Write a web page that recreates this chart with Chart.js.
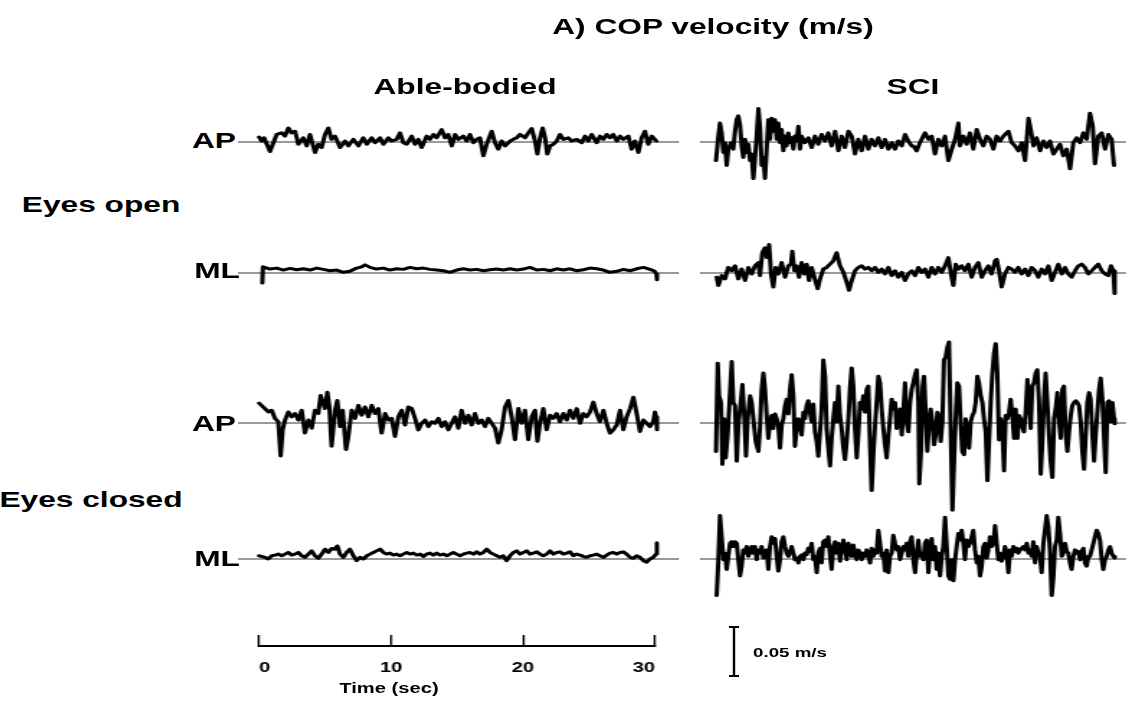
<!DOCTYPE html>
<html><head><meta charset="utf-8">
<script src="https://cdn.jsdelivr.net/npm/chart.js@4.4.1/dist/chart.umd.min.js"></script>
<style>
html,body{margin:0;padding:0;background:#fff;}
#stage{position:relative;width:1138px;height:707px;overflow:hidden;background:#fff;font-family:"Liberation Sans",Arial,sans-serif;}
.lbl{position:absolute;white-space:nowrap;font-weight:bold;line-height:1;color:#000;}
canvas{position:absolute;}
</style></head><body><div id="stage"></div>
<script>
// ---------------- DATA (time in s, COP velocity in mm/s) ----------------
const timeTicks = [0, 10, 20, 30];
const scaleBarValue = 50; // mm/s = 0.05 m/s

const abOpenAp = [[0,5],[0.2,1],[0.38,4.3],[0.83,-9.7],[1.34,7.7],[1.72,9.3],[1.97,6],[2.22,14.3],[2.47,9.3],[2.73,11],[2.98,-2.3],[3.36,4.3],[3.61,-4],[3.86,7.7],[4.24,-10.7],[4.49,-2.3],[4.75,-5.7],[5.0,7.7],[5.25,14.3],[5.5,2.7],[5.76,6],[6.14,-5.7],[6.52,1],[6.77,-4],[7.15,2.7],[7.53,-4],[7.9,4.3],[8.16,-2.3],[8.54,4.3],[8.79,-0.7],[9.17,4.3],[9.42,-2.3],[9.8,4.3],[10.05,1],[10.43,2.7],[10.68,9.3],[10.93,-0.7],[11.19,-2.3],[11.57,6],[11.82,-2.3],[12.07,2.7],[12.32,-5.7],[12.7,6],[12.95,2.7],[13.21,7.7],[13.46,4.3],[13.84,12.7],[14.09,4.3],[14.34,7.7],[14.6,-4],[14.85,7.7],[15.1,2.7],[15.48,6],[15.73,1],[15.98,7.7],[16.24,-0.7],[16.49,2.7],[16.74,4.3],[17.0,-14],[17.25,-2.3],[17.63,11],[17.88,-0.7],[18.13,-7.3],[18.38,1],[18.64,-4],[19.02,1],[19.27,2.7],[19.52,4.3],[19.77,7.7],[20.15,4.3],[20.4,9.3],[20.66,13.7],[20.91,1],[21.09,-12.3],[21.29,4.3],[21.49,14.3],[21.67,4.3],[21.84,-12.3],[22.05,-4],[22.3,-2.3],[22.55,1],[22.8,7.7],[23.06,2.7],[23.43,4.3],[23.69,1],[24.07,2.7],[24.44,-0.7],[24.7,6],[24.95,1],[25.2,7.7],[25.58,-0.7],[25.83,6],[26.09,2.7],[26.34,7.7],[26.59,4.3],[26.84,7.7],[27.1,1],[27.35,6],[27.6,2.7],[27.98,6],[28.23,-7.3],[28.48,1],[28.74,-10.7],[28.99,4.3],[29.24,11],[29.49,-2.3],[29.75,6],[30.1,1]];

const abOpenMl = [[0.25,-10.3],[0.3,6.3],[0.83,4],[1.34,5],[1.84,3],[2.35,4.7],[2.85,3.3],[3.36,4.3],[3.86,3],[4.37,5],[4.87,3.7],[5.38,2.3],[5.88,3],[6.39,0.7],[6.89,1.7],[7.4,5],[7.78,6.3],[8.03,8.3],[8.41,5.7],[8.91,4],[9.42,5],[9.92,3],[10.43,4.3],[10.93,3.7],[11.44,5.7],[11.94,4.3],[12.45,5],[12.95,3.7],[13.46,3],[13.96,2.3],[14.47,0.7],[14.97,3],[15.48,4.3],[15.98,3],[16.49,3.7],[17.0,2.3],[17.5,3.3],[18.0,4],[18.51,3],[19.02,4.3],[19.52,3],[20.03,4],[20.53,5.7],[21.04,3],[21.54,3.7],[22.05,2.3],[22.55,4.3],[23.06,3],[23.56,4.3],[24.07,2.3],[24.57,3.3],[25.08,5],[25.58,4.3],[26.09,3],[26.59,0.7],[27.1,1.7],[27.6,3.7],[28.11,2.3],[28.61,4.3],[29.12,5.7],[29.62,3.7],[29.95,2],[30.1,-1],[30.15,-7]];

const sciOpenAp = [[0,-19],[0.18,6],[0.3,19.3],[0.43,9.3],[0.56,-10.7],[0.68,-0.7],[0.81,-24],[0.93,-7.3],[1.14,-0.7],[1.31,-7.3],[1.44,11],[1.57,22.7],[1.69,26.7],[1.82,17.7],[1.94,-4],[2.07,-15.7],[2.2,2.7],[2.32,-10.7],[2.45,-2.3],[2.58,-19],[2.7,-12.3],[2.83,-37.3],[2.95,-17.3],[3.08,6],[3.21,34.3],[3.33,16],[3.46,-24],[3.59,-15.7],[3.71,-37.3],[3.84,-7.3],[3.96,22.7],[4.09,2.7],[4.22,24.3],[4.34,11],[4.47,22.7],[4.6,2.7],[4.72,19.3],[4.85,-0.7],[4.97,12.7],[5.1,-9],[5.23,6],[5.35,-4],[5.48,9.3],[5.61,-0.7],[5.73,4.3],[5.86,-7.3],[5.98,6],[6.11,1],[6.24,16],[6.36,-7.3],[6.49,6],[6.74,-0.7],[7.0,4.3],[7.25,-5.7],[7.5,6],[7.75,-2.3],[8.0,7.7],[8.26,1],[8.51,9.3],[8.76,-4],[9.02,11],[9.27,-9],[9.52,6],[9.77,-5.7],[10.03,11],[10.28,6],[10.53,-12.3],[10.78,2.7],[11.04,-9],[11.29,6],[11.54,-7.3],[11.79,2.7],[12.05,-4],[12.3,4.3],[12.55,-5.7],[12.8,2.7],[13.06,-7.3],[13.31,-0.7],[13.56,-7.3],[13.81,1],[14.07,-4],[14.32,7.7],[14.57,1],[14.82,-4],[14.95,-4],[15.2,-9],[15.45,-0.7],[15.83,9.3],[16.09,2.7],[16.34,6],[16.59,-12.3],[16.84,2.7],[17.1,-4],[17.35,6],[17.6,-19],[17.86,-7.3],[18.11,2.7],[18.36,19.3],[18.48,-4],[18.74,6],[18.99,-2.3],[19.24,9.3],[19.49,-7.3],[19.75,12.7],[20.0,2.7],[20.25,-4],[20.51,6],[20.76,2.7],[21.01,-7.3],[21.26,6],[21.52,1],[21.77,6],[22.15,11],[22.4,-0.7],[22.65,-4],[22.91,-9],[23.16,-0.7],[23.41,-19],[23.67,24.3],[23.84,12.7],[24.05,-4],[24.29,4.3],[24.55,-9],[24.8,1],[25.05,-5.7],[25.3,1],[25.56,-12.3],[25.81,-7.3],[26.06,-2.3],[26.31,-14],[26.57,-7.3],[26.82,-27.3],[27.07,-0.7],[27.32,4.3],[27.58,-0.7],[27.83,9.3],[28.08,2.7],[28.33,29.3],[28.54,16],[28.71,-22.3],[28.96,6],[29.22,9.3],[29.47,-7.3],[29.72,7.7],[29.97,2.7],[30.15,-24]];

const sciOpenMl = [[0.05,-4.3],[0.18,-12.7],[0.43,-2.7],[0.68,-6],[0.93,5.7],[1.19,2.3],[1.44,7.3],[1.69,-6],[1.94,4],[2.2,-7.7],[2.45,5.7],[2.7,-1],[2.95,7.3],[3.21,10.7],[3.33,-2.7],[3.51,20.7],[3.71,25.7],[3.84,15.7],[4.02,29],[4.17,-1],[4.34,-14.3],[4.52,5.7],[4.72,-1],[4.97,10.7],[5.23,-4.3],[5.48,7.3],[5.68,9],[5.78,22.3],[5.93,2.3],[6.11,7.3],[6.29,-4.3],[6.49,10.7],[6.69,-1],[6.87,9],[7.05,-7.7],[7.25,5.7],[7.45,-4.3],[7.7,-16],[7.88,-6],[8.13,4],[8.38,5.7],[8.64,9],[8.89,12.3],[9.14,20.7],[9.39,7.3],[9.65,0.7],[9.9,-9.3],[10.08,-17.7],[10.28,-7.7],[10.53,2.3],[10.78,5.7],[11.04,7.3],[11.29,4],[11.54,5.7],[11.79,2.3],[12.05,5.7],[12.3,0.7],[12.55,4],[12.8,-1],[13.06,5.7],[13.31,-2.7],[13.56,2.3],[13.81,-4.3],[14.07,0.7],[14.32,-7.7],[14.57,-1],[14.82,2.3],[15.08,-2.7],[15.33,5.7],[15.58,0.7],[15.83,4],[16.09,-4.3],[16.34,5.7],[16.59,-1],[16.84,5.7],[17.1,0.7],[17.35,7.3],[17.6,15.7],[17.85,-4.3],[17.98,-12.7],[18.16,9],[18.36,4],[18.61,7.3],[18.86,2.3],[19.12,9],[19.37,-4.3],[19.62,5.7],[19.87,10.7],[20.13,-4.3],[20.38,2.3],[20.63,7.3],[20.88,-1],[21.14,12.3],[21.26,14],[21.44,2.3],[21.64,-14.3],[21.89,-1],[22.15,5.7],[22.4,4],[22.65,0.7],[22.9,5.7],[23.16,-1],[23.41,4],[23.66,-2.7],[23.91,5.7],[24.17,2.3],[24.42,-4.3],[24.67,4],[24.92,-1],[25.18,7.3],[25.43,-7.7],[25.68,0.7],[25.93,9],[26.19,-1],[26.44,5.7],[26.69,-1],[26.94,-4.3],[27.2,2.3],[27.45,7.3],[27.7,9],[27.95,5.7],[28.21,-1],[28.46,2.3],[28.71,5.7],[28.96,9],[29.22,2.3],[29.47,-1],[29.72,-2.7],[29.92,7.3],[30.1,2.3],[30.2,-21]];

const abClosedAp = [[0,20.3],[0.45,14.7],[0.71,11.3],[0.96,13],[1.21,4.7],[1.46,1.3],[1.64,-33.7],[1.79,-7],[1.97,3],[2.22,11.3],[2.47,6.3],[2.73,9.7],[2.98,3],[3.23,13],[3.48,-10.3],[3.74,3],[3.99,-5.3],[4.24,13],[4.49,9.7],[4.67,28],[4.87,19.7],[5.0,14.7],[5.18,31.3],[5.33,16.3],[5.5,-23.7],[5.76,13],[5.93,23],[6.14,-3.7],[6.34,13],[6.59,-27],[6.77,-13.7],[7.02,13],[7.27,4.7],[7.53,18],[7.78,8],[8.03,16.3],[8.28,6.3],[8.54,18],[8.79,9.7],[9.04,14.7],[9.29,-10.3],[9.55,9.7],[9.8,3],[10.05,4.7],[10.3,-13.7],[10.56,6.3],[10.81,13],[11.06,-2],[11.31,16.3],[11.57,14.7],[11.82,4.7],[12.07,-7],[12.32,-0.3],[12.58,3],[12.83,-3.7],[13.08,1.3],[13.33,-0.3],[13.59,4.7],[13.84,-3.7],[14.09,1.3],[14.34,-7],[14.6,-0.3],[14.85,6.3],[15.1,-5.3],[15.35,13],[15.61,-0.3],[15.86,8],[16.11,-2],[16.36,9.7],[16.62,-0.3],[16.87,3],[17.12,-3.7],[17.37,4.7],[17.63,-0.3],[17.88,-5.3],[18.13,-20.3],[18.38,-7],[18.64,16.3],[18.89,23],[19.14,6.3],[19.39,-17],[19.65,14.7],[19.9,-0.3],[20.15,13],[20.4,-17],[20.66,6.3],[20.91,13],[21.09,-18.7],[21.29,-0.3],[21.54,14.7],[21.79,-7],[22.05,8],[22.3,4.7],[22.55,9.7],[22.8,1.3],[23.06,9.7],[23.31,3],[23.56,13],[23.81,4.7],[24.07,14.7],[24.32,-0.3],[24.57,9.7],[24.82,6.3],[25.08,11.3],[25.33,21.3],[25.58,9.7],[25.83,1.3],[26.09,13],[26.34,-0.3],[26.59,-10.3],[26.84,-7],[27.1,-2],[27.35,13],[27.6,-7],[27.85,6.3],[28.11,14.7],[28.36,26.3],[28.61,9.7],[28.86,-8.7],[29.12,3],[29.37,-0.3],[29.62,-3.7],[29.87,1.3],[30.0,11.3],[30.08,6.3],[30.15,-7]];

const abClosedMl = [[0,3.3],[0.45,1.7],[0.71,0],[0.96,3.3],[1.21,4],[1.46,5],[1.72,3.3],[1.97,5],[2.22,6.7],[2.47,4],[2.73,5],[2.98,6.7],[3.23,3.3],[3.48,1.7],[3.74,5],[3.99,8.3],[4.24,3.3],[4.49,0.7],[4.75,5],[5.0,10],[5.25,6.7],[5.5,10.7],[5.76,10],[5.93,13.3],[6.14,5],[6.39,1.7],[6.64,6.7],[6.89,10],[7.15,3.3],[7.4,-1.7],[7.65,1.7],[7.9,0],[8.16,3.3],[8.41,5],[8.66,6.7],[8.91,8.3],[9.17,10],[9.42,6.7],[9.67,5],[9.92,6],[10.18,4],[10.43,5],[10.68,3.3],[10.93,5],[11.19,6.7],[11.44,5],[11.69,6],[11.94,4],[12.2,5],[12.45,2.7],[12.7,5],[12.95,6],[13.21,4],[13.46,6],[13.71,4],[13.96,5],[14.22,3.3],[14.47,5],[14.72,6.7],[14.97,5],[15.23,3.3],[15.48,5],[15.73,6],[15.98,6.7],[16.24,5],[16.49,7.3],[16.74,5],[17.0,6.7],[17.25,10],[17.5,6.7],[17.75,5],[18.01,3.3],[18.26,1.7],[18.51,3.3],[18.76,-1.7],[19.02,3.3],[19.27,6.7],[19.52,8.3],[19.77,5],[20.03,6.7],[20.28,8.3],[20.53,5],[20.78,6],[21.04,7.3],[21.29,5],[21.54,3.3],[21.79,5],[22.05,8.3],[22.3,5],[22.55,6.7],[22.8,7.3],[23.06,5],[23.31,6],[23.56,7.3],[23.81,3.3],[24.07,5],[24.32,4],[24.57,2.7],[24.82,1.7],[25.08,3.3],[25.33,4],[25.58,5],[25.83,3.3],[26.09,1.7],[26.34,4],[26.59,6],[26.84,6.7],[27.1,5],[27.35,6.7],[27.6,7.3],[27.85,5],[28.11,1.7],[28.36,0.7],[28.61,3.3],[28.86,1.7],[29.12,-1.7],[29.37,-3.3],[29.62,0],[29.87,1.7],[30.08,5],[30.13,10],[30.15,16.7]];

const sciClosedAp = [[0,-29],[0.13,61],[0.23,27.7],[0.38,21],[0.48,-42.3],[0.61,4.3],[0.73,-35.7],[0.88,-12.3],[1.06,31],[1.19,62.7],[1.31,21],[1.44,17.7],[1.57,-39],[1.69,-2.3],[1.82,14.3],[2.0,39.3],[2.15,4.3],[2.27,-34],[2.4,4.3],[2.58,27.7],[2.7,21],[2.83,4.3],[3.01,-19],[3.21,-29],[3.33,-5.7],[3.46,34.3],[3.59,51],[3.71,34.3],[3.84,7.7],[3.96,-15.7],[4.09,1],[4.22,7.7],[4.34,-5.7],[4.47,9.3],[4.6,4.3],[4.72,-2.3],[4.85,-25.7],[4.97,-2.3],[5.1,4.3],[5.23,17.7],[5.35,24.3],[5.48,9.3],[5.61,34.3],[5.73,49.3],[5.86,27.7],[5.98,-24],[6.11,-5.7],[6.24,4.3],[6.36,-2.3],[6.49,-12.3],[6.62,11],[6.74,4.3],[6.87,17.7],[6.99,22.7],[7.12,11],[7.25,1],[7.37,19.3],[7.5,-9],[7.63,-19],[7.75,-34],[7.88,-9],[8.0,14.3],[8.13,64.3],[8.26,47.7],[8.38,-5.7],[8.51,-25.7],[8.64,-44],[8.76,-15.7],[8.89,4.3],[9.02,21],[9.14,1],[9.27,37.7],[9.39,7.7],[9.52,-5.7],[9.65,-25.7],[9.77,-37.3],[9.9,-19],[10.03,4.3],[10.15,34.3],[10.28,56],[10.4,37.7],[10.53,-5.7],[10.66,-35.7],[10.78,-12.3],[10.91,21],[11.04,14.3],[11.16,27.7],[11.29,11],[11.41,34.3],[11.54,37.7],[11.67,-22.3],[11.79,-69],[11.92,-32.3],[12.05,-2.3],[12.17,21],[12.3,47.7],[12.42,41],[12.55,14.3],[12.68,-5.7],[12.8,-22.3],[12.93,-35.7],[13.06,-12.3],[13.18,4.3],[13.31,24.3],[13.43,14.3],[13.56,21],[13.69,-5.7],[13.81,1],[13.94,14.3],[14.07,-12.3],[14.19,11],[14.32,41],[14.44,1],[14.57,-9],[14.7,21],[14.82,34.3],[14.95,41],[15.08,49.3],[15.2,54.3],[15.33,21],[15.4,-62.3],[15.53,-29],[15.66,37.7],[15.76,47.7],[15.88,11],[16.01,-29],[16.14,1],[16.26,14.3],[16.39,1],[16.52,-22.3],[16.64,-12.3],[16.77,11],[16.89,7.7],[17.02,-19],[17.15,1],[17.27,64.3],[17.4,67.7],[17.53,77.7],[17.65,82.7],[17.78,-5.7],[17.91,-89],[18.03,-39],[18.16,7.7],[18.28,41],[18.41,37.7],[18.54,-2.3],[18.66,-29],[18.79,-32.3],[18.91,4.3],[19.04,-9],[19.17,-25.7],[19.29,1],[19.42,7.7],[19.55,11],[19.67,21],[19.8,47.7],[19.92,41],[20.05,27.7],[20.18,21],[20.3,4.3],[20.43,-9],[20.56,-59],[20.68,-19],[20.81,21],[20.93,49.3],[21.06,71],[21.19,81],[21.31,51],[21.44,-17.3],[21.57,4.3],[21.69,-5.7],[21.82,-49],[21.94,7.7],[22.07,4.3],[22.2,11],[22.32,24.3],[22.45,7.7],[22.58,-15.7],[22.7,14.3],[22.83,-15.7],[22.95,7.7],[23.08,4.3],[23.21,-4],[23.33,-9],[23.46,11],[23.59,44.3],[23.71,27.7],[23.84,-5.7],[23.96,37.7],[24.09,41],[24.22,51],[24.34,54.3],[24.47,21],[24.6,-52.3],[24.72,-19],[24.85,24.3],[24.97,51],[25.1,21],[25.23,-12.3],[25.35,-39],[25.48,-55.7],[25.61,4.3],[25.73,14.3],[25.86,31],[25.98,4.3],[26.11,-15.7],[26.24,34.3],[26.36,37.7],[26.49,-12.3],[26.62,-29],[26.74,-9],[26.87,7.7],[26.99,17.7],[27.12,21],[27.25,22.7],[27.37,21],[27.5,17.7],[27.63,1],[27.75,-29],[27.88,-47.3],[28.01,-12.3],[28.13,21],[28.26,31],[28.38,24.3],[28.51,-12.3],[28.64,-39],[28.76,-12.3],[28.89,11],[29.02,34.3],[29.14,46],[29.27,24.3],[29.39,-12.3],[29.52,-50.7],[29.65,21],[29.77,22.7],[29.9,1],[30.03,21],[30.15,4.3],[30.2,-0.7]];

const sciClosedMl = [[0.05,-37.3],[0.18,-0.7],[0.3,44.3],[0.43,22.7],[0.56,-0.7],[0.68,6],[0.81,-10.7],[0.93,2.7],[1.06,16],[1.19,17.7],[1.31,12.7],[1.44,17.7],[1.57,16],[1.69,-0.7],[1.82,-17.3],[1.94,-7.3],[2.07,9.3],[2.2,6],[2.32,12.7],[2.45,2.7],[2.58,7.7],[2.7,12.7],[2.83,6],[2.95,12.7],[3.08,-0.7],[3.21,9.3],[3.33,6],[3.46,12.7],[3.59,1],[3.71,6],[3.84,9.3],[3.96,-10.7],[4.09,12.7],[4.22,22.7],[4.34,16],[4.47,21],[4.6,2.7],[4.72,-12.3],[4.85,-0.7],[4.97,17.7],[5.1,22.7],[5.23,12.7],[5.35,6],[5.48,2.7],[5.61,7.7],[5.73,12.7],[5.86,6],[5.98,-0.7],[6.11,1],[6.24,-4],[6.36,2.7],[6.49,4.3],[6.62,-0.7],[6.74,6],[6.87,4.3],[6.99,11],[7.12,7.7],[7.25,16],[7.37,-0.7],[7.5,2.7],[7.63,-14],[7.75,6],[7.88,11],[8.0,-4],[8.13,17.7],[8.26,19.3],[8.38,12.7],[8.51,22.7],[8.64,2.7],[8.76,-10.7],[8.89,12.7],[9.02,17.7],[9.14,6],[9.27,16],[9.39,-2.3],[9.52,9.3],[9.65,19.3],[9.77,11],[9.9,-0.7],[10.03,16],[10.15,9.3],[10.28,2.7],[10.4,14.3],[10.53,4.3],[10.66,-0.7],[10.78,9.3],[10.91,6],[11.04,-0.7],[11.16,6],[11.29,2.7],[11.41,9.3],[11.54,4.3],[11.67,-4],[11.79,11],[11.92,2.7],[12.05,9.3],[12.17,6],[12.3,29.3],[12.42,16],[12.55,2.7],[12.68,6],[12.8,-12.3],[12.93,9.3],[13.06,-14],[13.18,2.7],[13.31,6],[13.43,24.3],[13.56,16],[13.69,9.3],[13.81,12.7],[13.94,-0.7],[14.07,6],[14.19,12.7],[14.32,9.3],[14.44,16],[14.57,2.7],[14.7,17.7],[14.82,22.7],[14.95,-0.7],[15.08,-14],[15.2,6],[15.33,19.3],[15.45,2.7],[15.58,6],[15.71,-0.7],[15.83,16],[15.96,19.3],[16.09,-14],[16.21,9.3],[16.34,21],[16.46,-0.7],[16.59,12.7],[16.72,-10.7],[16.84,6],[16.97,-17.3],[17.1,2.7],[17.22,12.7],[17.35,42.7],[17.48,12.7],[17.6,-17.3],[17.73,-20.7],[17.85,-0.7],[17.98,-22.3],[18.11,-0.7],[18.23,12.7],[18.36,26],[18.48,19.3],[18.61,29.3],[18.74,16],[18.86,-0.7],[18.99,19.3],[19.12,12.7],[19.24,16],[19.37,22.7],[19.49,29.3],[19.62,9.3],[19.75,-4],[19.87,2.7],[20.0,-17.3],[20.13,-7.3],[20.25,12.7],[20.38,16],[20.51,1],[20.63,9.3],[20.76,22.7],[20.88,12.7],[21.01,16],[21.14,34.3],[21.26,16],[21.39,-0.7],[21.52,6],[21.64,-2.3],[21.77,2.7],[21.89,12.7],[22.02,6],[22.15,-14],[22.27,9.3],[22.4,2.7],[22.53,12.7],[22.65,7.7],[22.78,11],[22.9,6],[23.03,9.3],[23.16,11],[23.28,12.7],[23.41,9.3],[23.54,16],[23.66,6],[23.79,9.3],[23.91,2.7],[24.04,17.7],[24.17,-4],[24.29,12.7],[24.42,6],[24.55,2.7],[24.67,-14],[24.8,16],[24.92,29.3],[25.05,44.3],[25.18,32.7],[25.3,9.3],[25.43,-37.3],[25.56,-17.3],[25.68,12.7],[25.81,19.3],[25.93,42.7],[26.06,26],[26.19,2.7],[26.31,6],[26.44,16],[26.57,7.7],[26.69,6],[26.82,-4],[26.94,-10.7],[27.07,2.7],[27.2,9.3],[27.32,6],[27.45,7.7],[27.58,-0.7],[27.7,7.7],[27.83,11],[27.95,-4],[28.08,-7.3],[28.21,2.7],[28.33,2.7],[28.46,9.3],[28.59,16],[28.71,22.7],[28.84,29.3],[28.96,26],[29.09,19.3],[29.22,-0.7],[29.34,-10.7],[29.47,-0.7],[29.6,2.7],[29.72,9.3],[29.85,12.7],[29.97,6],[30.1,2.7],[30.2,1]];

// ---------------- LAYOUT ----------------
const S = 1.44;                 // horizontal stretch of the original figure
const PX_PER_SEC = 13.2;
const PX_PER_UNIT = 0.98;       // px per mm/s (0.05 m/s bar = 49 px)
const COL_X0 = [259, 716];      // pixel of t = 0
const COL_GRAY = [[238, 678], [700, 1126]];
const ROW_BASE = [142, 273, 423, 559];

Chart.defaults.font.family = '"Liberation Sans", Arial, sans-serif';
Chart.defaults.color = '#000';

const stage = document.getElementById('stage');

function addLabel(text, cx, cy, size) {
  const el = document.createElement('div');
  el.className = 'lbl';
  el.textContent = text;
  el.style.fontSize = size + 'px';
  el.style.left = cx + 'px';
  el.style.top = cy + 'px';
  el.style.transform = 'translate(-50%,-50%) scaleX(' + S + ')';
  stage.appendChild(el);
}
function addCanvas(left, top, w, h, parent) {
  const c = document.createElement('canvas');
  c.width = w; c.height = h;
  c.style.left = left + 'px'; c.style.top = top + 'px';
  c.style.width = w + 'px'; c.style.height = h + 'px';
  (parent || stage).appendChild(c);
  return c;
}
function addStretchWrap(left, top, w, h) {
  const wrap = document.createElement('div');
  wrap.style.cssText = 'position:absolute;left:' + left + 'px;top:' + top + 'px;width:' + w + 'px;height:' + h + 'px;transform:scaleX(' + S + ');transform-origin:0 0;';
  stage.appendChild(wrap);
  return wrap;
}

const baselinePlugin = {
  id: 'baseline',
  beforeDatasetsDraw(chart, args, opts) {
    const {ctx, chartArea, scales} = chart;
    const y = scales.y.getPixelForValue(0);
    ctx.save();
    ctx.strokeStyle = opts.color;
    ctx.lineWidth = opts.width;
    ctx.beginPath();
    ctx.moveTo(chartArea.left, y);
    ctx.lineTo(chartArea.right, y);
    ctx.stroke();
    ctx.restore();
  }
};

function drawTrace(pairs, col, row) {
  const x0 = COL_X0[col];
  const [gl, gr0] = COL_GRAY[col];
  const base = ROW_BASE[row];
  const H = 240;
  const Wc = Math.round((gr0 - gl) / S);
  const gr = gl + Wc * S;
  const wrap = addStretchWrap(gl, base - H / 2, Wc, H);
  const c = addCanvas(0, 0, Wc, H, wrap);
  const half = (H / 2) / PX_PER_UNIT;
  new Chart(c, {
    type: 'line',
    data: { datasets: [{
      data: pairs.map(p => ({x: p[0], y: p[1]})),
      borderColor: '#000', borderWidth: 3, pointRadius: 0, tension: 0,
      clip: false, borderJoinStyle: 'round', borderCapStyle: 'round', fill: false
    }]},
    options: {
      responsive: false, animation: false, devicePixelRatio: 1, events: [],
      layout: {autoPadding: false, padding: 0},
      plugins: {legend: {display: false}, tooltip: {enabled: false},
                baseline: {color: '#9b9b9b', width: 2}},
      scales: {
        x: {type: 'linear', display: false, min: (gl - x0) / PX_PER_SEC, max: (gr - x0) / PX_PER_SEC},
        y: {type: 'linear', display: false, min: -half, max: half}
      }
    },
    plugins: [baselinePlugin]
  });
}

drawTrace(abOpenAp, 0, 0);
drawTrace(abOpenMl, 0, 1);
drawTrace(abClosedAp, 0, 2);
drawTrace(abClosedMl, 0, 3);
drawTrace(sciOpenAp, 1, 0);
drawTrace(sciOpenMl, 1, 1);
drawTrace(sciClosedAp, 1, 2);
drawTrace(sciClosedMl, 1, 3);

// ---------------- TIME AXIS ----------------
(function () {
  const tickPad = 24.6;
  const padL = 25, padR = 25;        // >= tick padding so the axis is not shrunk
  const areaW = (30 * PX_PER_SEC) / S;
  const Wc = Math.ceil(areaW + padL + padR);
  const Tc = 586, Hc = 115;          // axis line lands at y = 646
  const wrap = addStretchWrap(COL_X0[0] - padL * S, Tc, Wc, Hc);
  const c = addCanvas(0, 0, Wc, Hc, wrap);
  new Chart(c, {
    type: 'line',
    data: {datasets: []},
    options: {
      responsive: false, animation: false, devicePixelRatio: 1, events: [],
      layout: {autoPadding: false, padding: {left: padL, right: Wc - padL - areaW, top: 0, bottom: 0}},
      plugins: {legend: {display: false}, tooltip: {enabled: false}},
      scales: {
        x: {
          type: 'linear', position: 'bottom', min: timeTicks[0], max: timeTicks[timeTicks.length - 1],
          afterBuildTicks: s => { s.ticks = timeTicks.map(v => ({value: v})); },
          ticks: {font: {weight: 'bold', size: 14}, color: '#000', padding: tickPad, align: 'inner', maxRotation: 0},
          grid: {drawOnChartArea: false, drawTicks: true, tickLength: -11, color: '#000', lineWidth: 1.4},
          border: {display: true, color: '#000', width: 2},
          title: {display: false}
        },
        y: {display: false, min: 0, max: 1}
      }
    }
  });
})();

// ---------------- SCALE BAR ----------------
(function () {
  const left = 714, top = 616, W = 40, H = 70, zeroFromTop = 60;
  const c = addCanvas(left, top, W, H);
  new Chart(c, {
    type: 'line',
    data: {datasets: [{
      data: [{x: 0, y: 0}, {x: 0, y: scaleBarValue}],
      borderColor: '#000', borderWidth: 2.4, pointStyle: 'line', pointRadius: 5,
      pointBorderWidth: 2, pointBorderColor: '#000', clip: false
    }]},
    options: {
      responsive: false, animation: false, devicePixelRatio: 1, events: [],
      layout: {autoPadding: false, padding: 0},
      plugins: {legend: {display: false}, tooltip: {enabled: false}},
      scales: {
        x: {type: 'linear', display: false, min: -1, max: 1},
        y: {type: 'linear', display: false, min: -(H - zeroFromTop) / PX_PER_UNIT, max: zeroFromTop / PX_PER_UNIT}
      }
    }
  });
})();

// ---------------- TEXT ----------------
addLabel('A) COP velocity (m/s)', 713, 27, 22);
addLabel('Able-bodied', 465, 87, 22);
addLabel('SCI', 913, 87, 22);
addLabel('AP', 214, 141, 22);
addLabel('Eyes open', 101, 205, 22);
addLabel('ML', 217, 271, 22);
addLabel('AP', 214, 424, 22);
addLabel('Eyes closed', 91, 500, 22);
addLabel('ML', 217, 559, 22);
addLabel('Time (sec)', 389, 688, 14);
addLabel('0.05 m/s', 790, 652, 13);
</script></body></html>
